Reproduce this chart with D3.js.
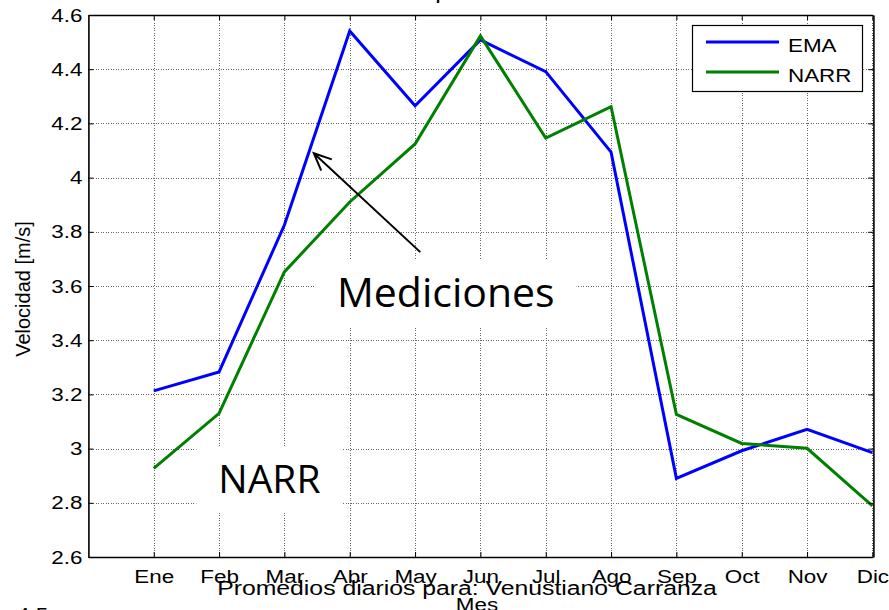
<!DOCTYPE html>
<html>
<head>
<meta charset="utf-8">
<script src="https://cdn.jsdelivr.net/npm/d3@7"></script>
<style>
  body { margin: 0; background: #fff; }
  svg { display: block; }
</style>
</head>
<body>
<div id="chart"></div>
<script>
const months = ["Ene", "Feb", "Mar", "Abr", "May", "Jun", "Jul", "Ago", "Sep", "Oct", "Nov", "Dic"];
const ema = [3.213, 3.283, 3.825, 4.541, 4.265, 4.508, 4.391, 4.094, 2.890, 2.992, 3.071, 2.985];
const narr = [2.927, 3.130, 3.652, 3.910, 4.124, 4.523, 4.146, 4.262, 3.126, 3.019, 3.001, 2.789];
const yTicks = [2.6, 2.8, 3, 3.2, 3.4, 3.6, 3.8, 4, 4.2, 4.4, 4.6];
const seriesNames = ["EMA", "NARR"];
const seriesColors = ["#0000ff", "#008000"];

// annotations, in data units
const arrowFrom = [5.08, 3.725];
const arrowTo = [3.45, 4.09];
const notes = [
  { label: "Mediciones", x: 5.47, y: 3.522, size: 41 },
  { label: "NARR", x: 2.77, y: 2.836, size: 39 }
];

const width = 889;
const height = 610;
const mLeft = 88.4, mRight = 872.4, mTop = 15, mBottom = 557;
const stretch = 1.18;
const axisFont = '"Liberation Sans", Arial, sans-serif';

const svg = d3.select('#chart')
  .append('svg')
  .attr('width', width)
  .attr('height', height)
  .attr('font-family', axisFont)

const xScale = d3.scaleLinear().domain([0, 12]).range([mLeft, mRight]);
const yScale = d3.scaleLinear().domain([2.6, 4.6]).range([mBottom, mTop]);
const monthIdx = d3.range(1, 13);

// grid
const grid = svg.append('g')
  .attr('stroke', '#666')
  .attr('stroke-width', 1)
  .attr('stroke-dasharray', '1,1.5')
  .attr('shape-rendering', 'crispEdges')

grid.selectAll('.gx').data(monthIdx).join('line')
  .attr('x1', d => Math.round(xScale(d)) + 0.5).attr('x2', d => Math.round(xScale(d)) + 0.5)
  .attr('y1', mTop).attr('y2', mBottom)

grid.selectAll('.gy').data(yTicks).join('line')
  .attr('y1', d => Math.round(yScale(d)) + 0.5).attr('y2', d => Math.round(yScale(d)) + 0.5)
  .attr('x1', mLeft).attr('x2', mRight + 1)

// data lines
const line = d3.line()
  .x((d, i) => xScale(i + 1))
  .y(d => yScale(d));

[ema, narr].forEach((s, k) => {
  svg.append('path')
    .datum(s)
    .attr('d', line)
    .attr('fill', 'none')
    .attr('stroke', seriesColors[k])
    .attr('stroke-width', 3)
    .attr('stroke-linejoin', 'miter')
});

// axes (ticks point inward)
const xAxis = d3.axisBottom(xScale)
  .tickValues(monthIdx)
  .tickFormat(d => months[d - 1])
  .tickSizeInner(-5)
  .tickSizeOuter(0)
  .tickPadding(13)

const yAxis = d3.axisLeft(yScale)
  .tickValues(yTicks)
  .tickFormat(d3.format('~g'))
  .tickSizeInner(-5)
  .tickSizeOuter(0)
  .tickPadding(6)

const gx = svg.append('g')
  .attr('transform', `translate(0, ${mBottom})`)
  .call(xAxis)

const gy = svg.append('g')
  .attr('transform', `translate(${mLeft}, 0)`)
  .call(yAxis)

svg.append('g')
  .attr('transform', `translate(0, ${mTop})`)
  .call(d3.axisTop(xScale).tickValues(monthIdx).tickFormat('').tickSizeInner(-5).tickSizeOuter(0))

svg.append('g')
  .attr('transform', `translate(${mRight + 1}, 0)`)
  .call(d3.axisRight(yScale).tickValues(yTicks).tickFormat('').tickSizeInner(-5).tickSizeOuter(0))

svg.selectAll('.domain').attr('stroke', '#000').attr('stroke-width', 1.6)
svg.selectAll('.tick line').attr('stroke', '#000')

;[gx, gy].forEach(g => g.selectAll('text')
  .attr('font-size', 19)
  .attr('font-family', axisFont)
  .attr('fill', '#000')
  .attr('transform', `scale(${stretch},1)`))
gy.selectAll('text').attr('x', -6 / stretch)

// annotation boxes
notes.forEach(n => {
  const g = svg.append('g');
  const t = g.append('text')
    .attr('x', xScale(n.x))
    .attr('y', yScale(n.y))
    .attr('text-anchor', 'middle')
    .attr('font-family', '"Open Sans", "Noto Sans", sans-serif')
    .attr('font-size', n.size)
    .text(n.label)
  const bb = t.node().getBBox();
  g.insert('rect', 'text')
    .attr('x', bb.x - 22)
    .attr('y', bb.y - 4)
    .attr('width', bb.width + 44)
    .attr('height', bb.height + 12)
    .attr('fill', '#fff')
});

// arrow
const ax0 = xScale(arrowFrom[0]), ay0 = yScale(arrowFrom[1]);
const ax1 = xScale(arrowTo[0]), ay1 = yScale(arrowTo[1]);
const ang = Math.atan2(ay1 - ay0, ax1 - ax0);
const headLen = 19, headAng = 0.42;
svg.append('path')
  .attr('d', `M${ax0},${ay0}L${ax1},${ay1}` +
    `M${ax1 - headLen * Math.cos(ang - headAng)},${ay1 - headLen * Math.sin(ang - headAng)}L${ax1},${ay1}` +
    `L${ax1 - headLen * Math.cos(ang + headAng)},${ay1 - headLen * Math.sin(ang + headAng)}`)
  .attr('fill', 'none')
  .attr('stroke', '#000')
  .attr('stroke-width', 2)

// legend
const legend = svg.append('g').attr('transform', 'translate(692, 25)')
legend.append('rect')
  .attr('x', 0.5).attr('y', 0.5)
  .attr('width', 170).attr('height', 66)
  .attr('fill', '#fff').attr('stroke', '#000').attr('stroke-width', 1.2)
seriesNames.forEach((name, i) => {
  legend.append('line')
    .attr('x1', 14).attr('x2', 87)
    .attr('y1', 17 + i * 30).attr('y2', 17 + i * 30)
    .attr('stroke', seriesColors[i]).attr('stroke-width', 3)
  legend.append('text')
    .attr('transform', `translate(96, ${27 + i * 30}) scale(${stretch},1)`)
    .attr('font-size', 19)
    .text(name)
});

// labels
svg.append('text')
  .attr('transform', `translate(30, 289) rotate(-90)`)
  .attr('text-anchor', 'middle')
  .attr('font-size', 20)
  .text('Velocidad [m/s]')

svg.append('text')
  .attr('transform', `translate(467, 595) scale(${stretch},1)`)
  .attr('text-anchor', 'middle')
  .attr('font-size', 21)
  .text('Promedios diarios para: Venustiano Carranza')

svg.append('text')
  .attr('transform', `translate(477, 611) scale(${stretch},1)`)
  .attr('text-anchor', 'middle')
  .attr('font-size', 19)
  .text('Mes')

svg.append('text')
  .attr('transform', `translate(480, -1) scale(${stretch},1)`)
  .attr('text-anchor', 'middle')
  .attr('font-size', 21)
  .text('Velocidad promedio mensual')

svg.append('text')
  .attr('transform', `translate(17, 621) scale(${stretch},1)`)
  .attr('font-size', 19)
  .text('4.5')
</script>
</body>
</html>
